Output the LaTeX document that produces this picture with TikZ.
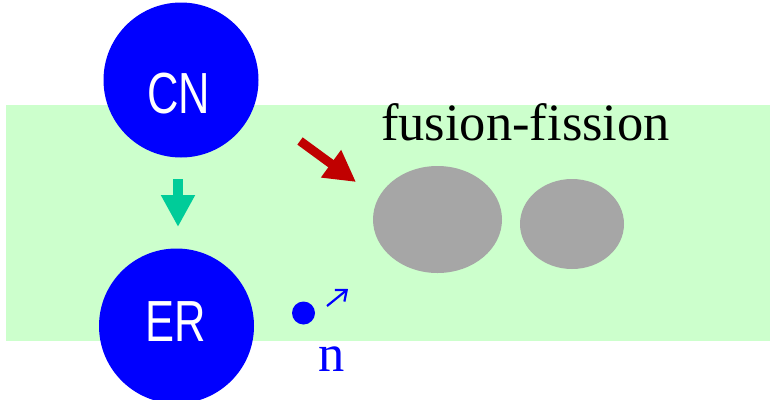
\documentclass[tikz,border=0pt]{standalone}
\usepackage{fontspec}
\setmainfont{Liberation Serif}
\setsansfont{Liberation Sans}
\usetikzlibrary{shapes.geometric,arrows.meta}
\definecolor{bandgreen}{HTML}{CCFFCC}
\definecolor{nodeblue}{HTML}{0000FF}
\definecolor{arrgreen}{HTML}{00CC99}
\definecolor{arrred}{HTML}{C00000}
\definecolor{blobgray}{HTML}{A6A6A6}
\tikzset{
  bignode/.style={circle, fill=nodeblue, minimum size=155pt, inner sep=0pt},
  nodetext/.style={text=white, inner sep=0pt, anchor=base, font=\sffamily\fontsize{58}{60}\selectfont},
  blob/.style={ellipse, fill=blobgray, inner sep=0pt},
  bigtext/.style={inner sep=0pt, font=\fontsize{52.5}{60}\selectfont},
}
\begin{document}
\begin{tikzpicture}[x=1pt,y=-1pt]
\useasboundingbox (0,0) rectangle (770,399);
\fill[bandgreen] (6,105) rectangle (770,341);
\node[bignode] (cn) at (181,80) {};
\node[bignode] (er) at (176.5,326) {};
\node[nodetext] (cnt) at (178.5,113) {\scalebox{0.75}[1]{CN}};
\node[nodetext] (ert) at (176,341) {\scalebox{0.75}[1]{ER}};
\coordinate (ga) at (178,179);
\coordinate (gb) at (178,227);
\draw[arrgreen, line width=10pt, -{Triangle[length=32pt,width=32pt]}] (ga) -- (gb);
\coordinate (ra) at (300,141);
\coordinate (rb) at (356,182);
\draw[arrred, line width=9pt, -{Triangle[length=31pt,width=32pt]}] (ra) -- (rb);
\node[bigtext, anchor=base west] (ff) at (381,140) {fusion-fission};
\node[blob, minimum width=129pt, minimum height=107pt] (b1) at (437.5,219.5) {};
\node[blob, minimum width=104pt, minimum height=90pt] (b2) at (572,224) {};
\node[circle, fill=nodeblue, minimum size=23pt, inner sep=0pt] (dot) at (303.5,313) {};
\coordinate (na) at (327,306);
\coordinate (nb) at (348,289);
\draw[nodeblue, line width=2.2pt, -{Straight Barb[length=9pt,width=15pt]}] (na) -- (nb);
\node[bigtext, text=nodeblue, anchor=base] (n) at (331.5,371) {n};
\end{tikzpicture}
\end{document}
